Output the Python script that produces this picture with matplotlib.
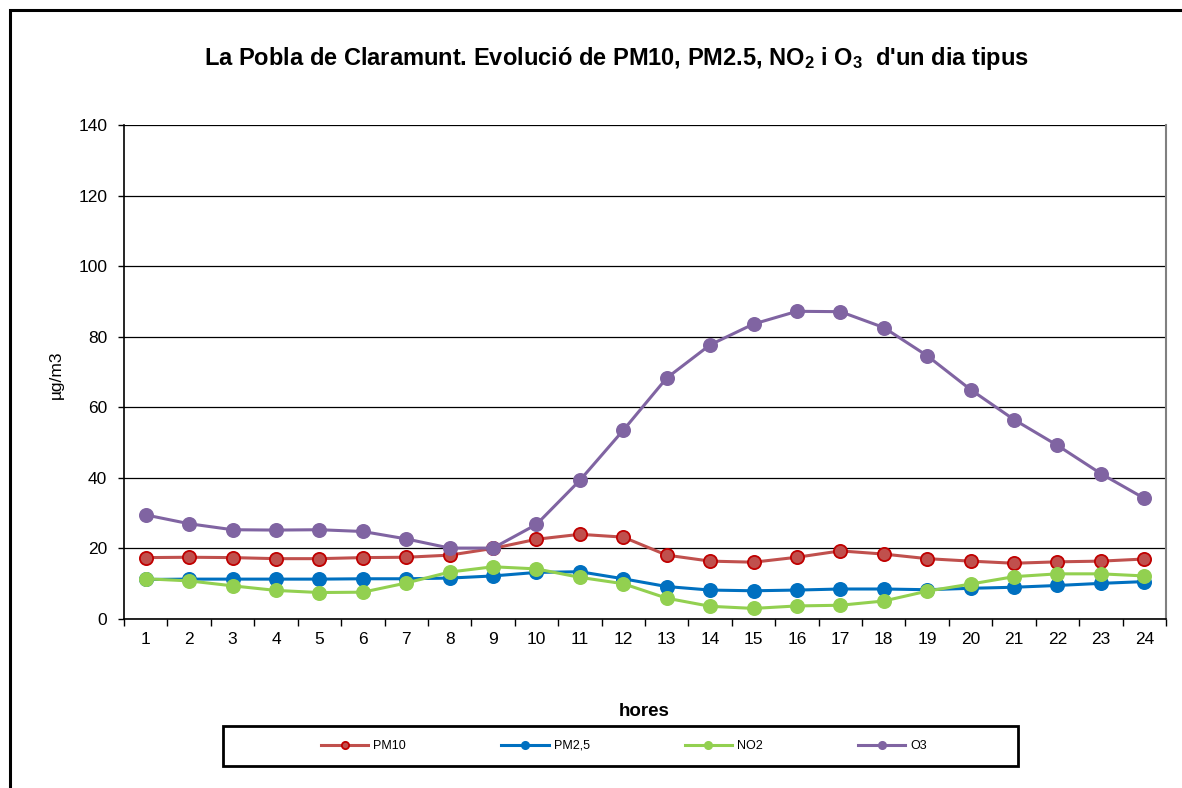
import matplotlib
matplotlib.use("Agg")
import matplotlib.pyplot as plt
from matplotlib.patches import Rectangle

plt.rcParams['font.family'] = ['Liberation Sans', 'DejaVu Sans']
plt.rcParams['mathtext.default'] = 'regular'

hours = list(range(1, 25))
pm10 = [17.4, 17.5, 17.4, 17.1, 17.1, 17.4, 17.5, 18.1, 20.0, 22.6, 24.0, 23.2,
        18.1, 16.4, 16.1, 17.5, 19.3, 18.4, 17.1, 16.4, 15.8, 16.2, 16.4, 17.0]
pm25 = [11.2, 11.3, 11.3, 11.3, 11.3, 11.4, 11.4, 11.6, 12.2, 13.2, 13.4, 11.4,
        9.2, 8.2, 8.0, 8.2, 8.5, 8.5, 8.3, 8.7, 9.0, 9.5, 10.1, 10.6]
no2 = [11.4, 10.8, 9.4, 8.1, 7.5, 7.6, 10.2, 13.3, 14.8, 14.2, 11.8, 10.0,
       5.9, 3.6, 3.0, 3.7, 3.9, 5.1, 7.9, 9.9, 12.0, 12.8, 12.8, 12.2]
o3 = [29.5, 27.0, 25.3, 25.2, 25.3, 24.8, 22.7, 20.1, 20.1, 26.8, 39.3, 53.5,
      68.3, 77.7, 83.6, 87.2, 87.1, 82.6, 74.6, 65.0, 56.5, 49.2, 41.2, 34.2]

series = [
    ("PM10", pm10, "#C0504D", "#C00000"),
    ("PM2,5", pm25, "#0070C0", "#0070C0"),
    ("NO2", no2, "#92D050", "#92D050"),
    ("O3", o3, "#8064A2", "#8064A2"),
]

W, H = 1182, 788
fig = plt.figure(figsize=(W / 100, H / 100), dpi=100)
fig.patch.set_facecolor("white")

# outer chart border
fig.patches.append(Rectangle((10 / W, -0.05), 1.1, 1 - 10 / H + 0.05,
                             transform=fig.transFigure, fill=False,
                             edgecolor="black", linewidth=2.2, zorder=0))
# legend border
fig.patches.append(Rectangle((223 / W, 1 - 766 / H), (1018 - 223) / W, 40 / H,
                             transform=fig.transFigure, fill=False,
                             edgecolor="black", linewidth=2.0, zorder=0))

left, right, top, bottom = 124, 1166, 125, 619
ax = fig.add_axes([left / W, 1 - bottom / H, (right - left) / W, (bottom - top) / H])

for name, vals, col, edge in series:
    ax.plot(hours, vals, color=col, linewidth=2.2, marker="o", markersize=9.5,
            markerfacecolor=col, markeredgecolor=edge, markeredgewidth=1.3,
            label=name, zorder=3)

ax.set_xlim(0.5, 24.5)
ax.set_ylim(0, 140)
ax.set_yticks(range(0, 141, 20))
ax.yaxis.grid(True, color="black", linewidth=0.9)
ax.set_axisbelow(True)
ax.set_xticks(hours)
ax.set_xticks([h + 0.5 for h in range(0, 25)], minor=True)
ax.tick_params(axis="x", which="major", length=0, labelsize=12.5, pad=9)
ax.tick_params(axis="x", which="minor", length=5, width=1, direction="out")
ax.tick_params(axis="y", length=4, width=1, labelsize=12.5, pad=8)

for s in ["left", "bottom"]:
    ax.spines[s].set_color("black")
    ax.spines[s].set_linewidth(1.2)
ax.spines["top"].set_visible(False)
ax.spines["right"].set_color("#808080")
ax.spines["right"].set_linewidth(1.5)

fig.text(56 / W, 1 - 375 / H, "µg/m3", rotation=90, ha="center", va="center",
         fontsize=12.5)

fig.text(617 / W, 1 - 59 / H,
         "La Pobla de Claramunt. Evolució de PM10, PM2.5, NO$_2$ i O$_3$  d'un dia tipus",
         ha="center", va="center", fontsize=17, fontweight="bold")
fig.text(644 / W, 1 - 711 / H, "hores", ha="center", va="center",
         fontsize=13.5, fontweight="bold")

handles, labels = ax.get_legend_handles_labels()
leg = fig.legend(handles, labels, loc="center", ncol=4,
                 bbox_to_anchor=(624 / W, 1 - 746 / H),
                 fontsize=9, markerscale=0.55,
                 handlelength=3.8, handletextpad=0.4, columnspacing=7.6,
                 frameon=False)

fig.savefig("out.png", dpi=100, facecolor="white")
